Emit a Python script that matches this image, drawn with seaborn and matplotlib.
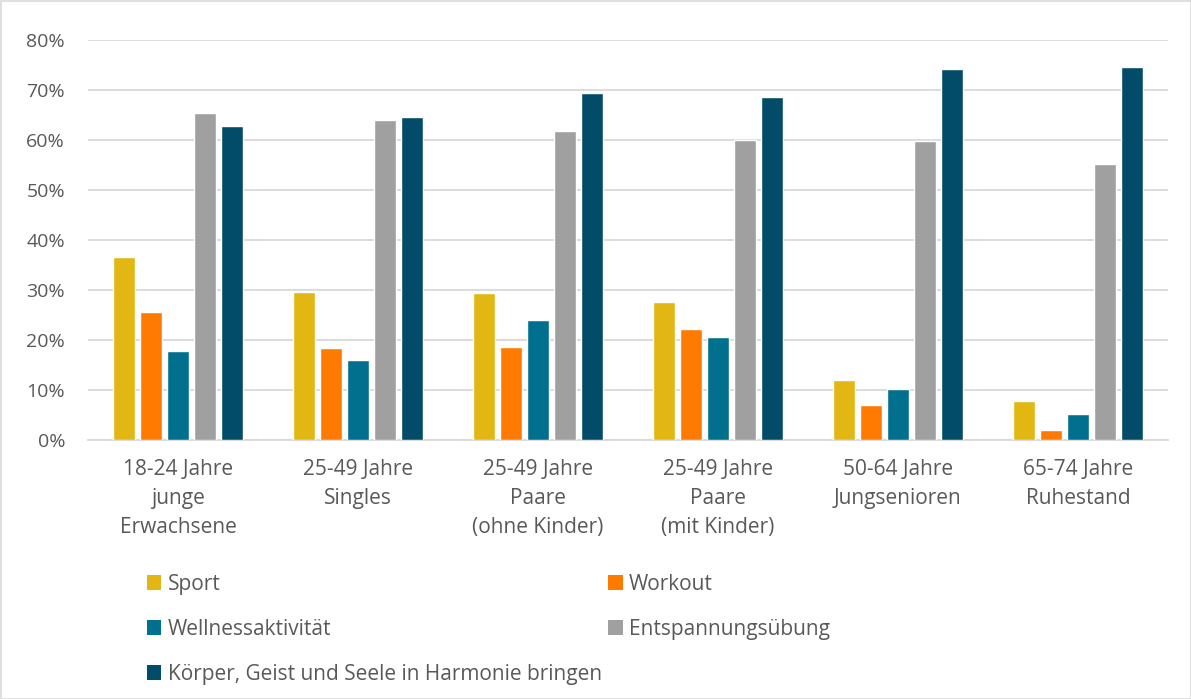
import matplotlib
matplotlib.use("Agg")
import matplotlib.pyplot as plt
import seaborn as sns
import pandas as pd
from matplotlib.patches import Rectangle, Patch
from matplotlib.ticker import PercentFormatter

groups = [
    "18-24 Jahre\njunge\nErwachsene",
    "25-49 Jahre\nSingles",
    "25-49 Jahre\nPaare\n(ohne Kinder)",
    "25-49 Jahre\nPaare\n(mit Kinder)",
    "50-64 Jahre\nJungsenioren",
    "65-74 Jahre\nRuhestand",
]
series = ["Sport", "Workout", "Wellnessaktivität", "Entspannungsübung",
          "Körper, Geist und Seele in Harmonie bringen"]

sport = [36.7, 29.6, 29.4, 27.6, 12.0, 7.9]
workout = [25.7, 18.4, 18.6, 22.2, 7.0, 2.1]
wellness = [17.9, 16.0, 24.0, 20.6, 10.2, 5.3]
entspannung = [65.5, 64.1, 61.9, 60.0, 59.8, 55.2]
koerper = [62.9, 64.7, 69.4, 68.6, 74.2, 74.7]

colors = ["#E2B713", "#FF7A00", "#01708F", "#A0A0A0", "#024C6A"]

values = [sport, workout, wellness, entspannung, koerper]
df = pd.DataFrame({
    "Gruppe": [g for _ in series for g in groups],
    "Aktivität": [s for s in series for _ in groups],
    "Wert": [v for vals in values for v in vals],
})

sns.set_style("white")
plt.rcParams["font.family"] = ["Open Sans", "DejaVu Sans"]

fig = plt.figure(figsize=(11.91, 6.99), dpi=100)
ax = fig.add_axes([88 / 1191, 1 - 440 / 699, 1080 / 1191, 400 / 699])

sns.barplot(data=df, x="Gruppe", y="Wert", hue="Aktivität", order=groups,
            hue_order=series, palette=colors, width=0.75, gap=0.17,
            saturation=1, ax=ax, legend=False, zorder=3)

ax.set_ylim(0, 80)
ax.set_yticks(range(0, 81, 10))
ax.yaxis.set_major_formatter(PercentFormatter(decimals=0))
ax.set_xlim(-0.5, len(groups) - 0.5)
ax.set_xlabel("")
ax.set_ylabel("")
ax.grid(axis="y", color="#D9D9D9", linewidth=1.3, zorder=0)
for side in ["left", "right", "top"]:
    ax.spines[side].set_visible(False)
ax.spines["bottom"].set_color("#D9D9D9")
ax.spines["bottom"].set_linewidth(1.3)
ax.tick_params(axis="both", length=0, colors="#595959")
ax.tick_params(axis="x", pad=14, labelsize=15)
ax.tick_params(axis="y", pad=16.5, labelsize=14)
for lbl in ax.get_xticklabels():
    lbl.set_linespacing(1.5)

handles = [Patch(facecolor=c, edgecolor="none") for c in colors]
order = [0, 2, 4, 1, 3]
fig.legend([handles[i] for i in order], [series[i] for i in order],
           loc="upper left", bbox_to_anchor=(128 / 1191, 1 - 555 / 699),
           ncol=2, frameon=False, fontsize=15, labelcolor="#595959",
           handlelength=0.7, handleheight=0.7, handletextpad=0.3,
           labelspacing=1.15, columnspacing=0.3)

fig.patches.append(Rectangle((0.5 / 1191, 0.5 / 699), 1 - 1 / 1191, 1 - 1 / 699,
                             transform=fig.transFigure, fill=False,
                             edgecolor="#D9D9D9", linewidth=1.2))

fig.savefig("out.png", dpi=100)
